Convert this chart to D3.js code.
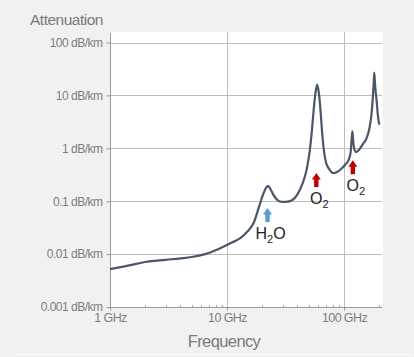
<!DOCTYPE html>
<html><head><meta charset="utf-8">
<script src="https://cdn.jsdelivr.net/npm/d3@7"></script>
<style>
html,body{margin:0;padding:0;background:#f1f1f1;}
svg{display:block;font-family:"Liberation Sans",Arial,sans-serif;}
</style></head>
<body>
<svg id="c" width="414" height="357"></svg>
<script>
// ---- data ----
const freqGHz = [1,1.5,2,3,4,5,6.5,8.4,11,13,15,17,19,20.5,21.8,22.5,23.5,25,27,29.5,33,36,40,44,48,51,53,55,57,59,61,63,65,67,70,75,81,88,95,103,110,114,116.5,118,119.5,122,127,135,146,155,165,172,176,179,181.5,184,187,190,194,198,201];
const attenuation = [0.0052,0.0062,0.0071,0.0078,0.0083,0.0088,0.0100,0.0124,0.0165,0.020,0.027,0.040,0.085,0.14,0.185,0.195,0.17,0.13,0.105,0.097,0.098,0.104,0.135,0.21,0.40,0.9,2.0,5.2,11,16,11,5.2,2.0,1.0,0.55,0.40,0.34,0.36,0.41,0.50,0.62,0.85,1.6,2.1,1.5,1.0,0.85,0.95,1.23,1.5,2.4,4.5,8.5,16,27,17,11,8,4.6,3.2,2.8];
const yTickValues = [0.001,0.01,0.1,1,10,100];
const yTickLabels = ["0.001 dB/km","0.01 dB/km","0.1 dB/km","1 dB/km","10 dB/km","100 dB/km"];
const xTickValues = [1,10,100];
const xTickLabels = ["1 GHz","10 GHz","100 GHz"];
const xMinorTicks = [2,3,4,5,6,7,8,9,20,30,40,50,60,70,80,90,200];
const markerNames = ["H","O","O"];
const markerSubs = ["2","2","2"];
const markerTails = ["O","",""];
const markerFreq = [22.2,58,119];
const markerTipAtt = [0.074,0.342,0.594];
const markerColors = ["#5b9bd5","#c00000","#c00000"];

const svg = d3.select("#c");
const L = 110, R = 382, T = 32, B = 307;
const x = d3.scaleLog().domain([1, Math.pow(10,(R-L)/117)]).range([L,R]);
const y = d3.scaleLog().domain([0.001,100]).range([B,42.5]);

// plot background
svg.append("rect").attr("x",L).attr("y",T).attr("width",R-L+1).attr("height",B-T).attr("fill","#ffffff");
// faint bottom line
svg.append("line").attr("x1",15).attr("x2",412).attr("y1",354.5).attr("y2",354.5).attr("stroke","#fbfbfb").attr("stroke-width",1.5);

// gridlines
svg.append("g").selectAll("line").data(yTickValues.slice(1)).join("line")
  .attr("x1",L).attr("x2",R).attr("y1",d=>Math.round(y(d))+0.5).attr("y2",d=>Math.round(y(d))+0.5)
  .attr("stroke","#bdbdbd").attr("stroke-width",1);
svg.append("g").selectAll("line").data(xTickValues.slice(1)).join("line")
  .attr("x1",d=>Math.round(x(d))+0.5).attr("x2",d=>Math.round(x(d))+0.5).attr("y1",T).attr("y2",B)
  .attr("stroke","#bdbdbd").attr("stroke-width",1);

// y axis
const yAxis = d3.axisLeft(y).tickValues(yTickValues).tickFormat((d,i)=>yTickLabels[i]).tickSize(4).tickPadding(4);
const gy = svg.append("g").attr("transform",`translate(${L+0.5},0)`).call(yAxis);
gy.select(".domain").attr("d",`M0,${T+1}V${B}`).attr("stroke","#9a9a9a");
gy.selectAll(".tick line").attr("stroke","#9a9a9a");
gy.selectAll(".tick text").attr("fill","#7d7d7d").attr("font-size",12).attr("letter-spacing","-0.5px")
  .attr("font-family","'Liberation Sans',Arial,sans-serif");

// x axis
const xAxis = d3.axisBottom(x).tickValues(xTickValues).tickFormat((d,i)=>xTickLabels[i]).tickSize(3).tickPadding(3);
const gx = svg.append("g").attr("transform",`translate(0,${B+0.5})`).call(xAxis);
gx.select(".domain").attr("d",`M${L},0H${R}`).attr("stroke","#9a9a9a");
gx.selectAll(".tick line").attr("stroke","#9a9a9a");
gx.selectAll(".tick text").attr("fill","#7d7d7d").attr("font-size",12.5).attr("letter-spacing","-0.6px")
  .attr("font-family","'Liberation Sans',Arial,sans-serif");
svg.append("g").selectAll("line").data(xMinorTicks.filter(d=>x(d)<=R)).join("line")
  .attr("x1",d=>Math.round(x(d))+0.5).attr("x2",d=>Math.round(x(d))+0.5).attr("y1",B-2).attr("y2",B)
  .attr("stroke","#a8a8a8");

// axis titles
svg.append("text").attr("x",30).attr("y",25).attr("fill","#7a7a7a").attr("font-size",15.5).attr("letter-spacing","-0.5px").text("Attenuation");
svg.append("text").attr("x",224).attr("y",347).attr("text-anchor","middle").attr("fill","#7a7a7a").attr("font-size",16.5).attr("letter-spacing","-0.6px").text("Frequency");

// curve
const pts = freqGHz.map((f,i)=>[f,attenuation[i]]);
const line = d3.line().x(d=>x(d[0])).y(d=>y(d[1])).curve(d3.curveMonotoneX);
svg.append("path").datum(pts).attr("d",line).attr("fill","none").attr("stroke","#4b5668").attr("stroke-width",2.2).attr("stroke-linejoin","round");

// markers
markerFreq.forEach((f,i)=>{
  const cx = x(f), ty = y(markerTipAtt[i]);
  const hw = 4.5, hh = 6.5, sw = 2.2, len = 14;
  const p = `M${cx},${ty}L${cx+hw},${ty+hh}L${cx+sw},${ty+hh}L${cx+sw},${ty+len}L${cx-sw},${ty+len}L${cx-sw},${ty+hh}L${cx-hw},${ty+hh}Z`;
  svg.append("path").attr("d",p).attr("fill",markerColors[i]);
  const t = svg.append("text").attr("x",cx+3).attr("y",ty+31).attr("text-anchor","middle").attr("fill","#222").attr("font-size",16);
  t.append("tspan").text(markerNames[i]);
  t.append("tspan").attr("font-size",11).attr("dy",4).text(markerSubs[i]);
  if (markerTails[i]) t.append("tspan").attr("dy",-4).text(markerTails[i]);
});
</script>
</body></html>
